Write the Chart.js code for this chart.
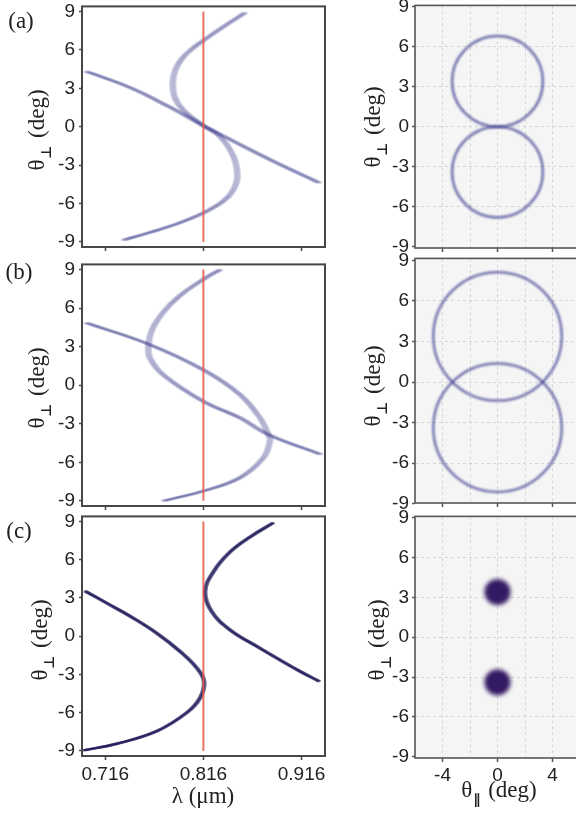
<!DOCTYPE html>
<html>
<head>
<meta charset="utf-8">
<script src="https://cdn.jsdelivr.net/npm/chart.js@4.4.1/dist/chart.umd.min.js"></script>
<style>
  html, body { margin: 0; padding: 0; background: #fff; }
  body { width: 576px; height: 813px; position: relative; overflow: hidden; }
  canvas { position: absolute; }
  .t { position: absolute; font-family: "Liberation Serif", "Times New Roman", serif; font-size: 23px; color: #222; white-space: nowrap; transform: translate(-50%, -50%); }
  .t.v { transform: translate(-50%, -50%) rotate(-90deg); }
  .t b { font-family: "DejaVu Sans", sans-serif; font-size: 14px; position: relative; top: 7px; margin-left: 1px; margin-right: 2px; }
</style>
</head>
<body>
<canvas id="la"></canvas>
<canvas id="lb"></canvas>
<canvas id="lc"></canvas>
<canvas id="ra"></canvas>
<canvas id="rb"></canvas>
<canvas id="rc"></canvas>

<div class="t" style="left:21px;top:21px">(a)</div>
<div class="t" style="left:19px;top:272px">(b)</div>
<div class="t" style="left:19px;top:531px">(c)</div>
<div class="t v" style="left:37px;top:130px">θ<b>⊥</b> (deg)</div>
<div class="t v" style="left:37px;top:388px">θ<b>⊥</b> (deg)</div>
<div class="t v" style="left:40px;top:640px">θ<b>⊥</b> (deg)</div>
<div class="t v" style="left:373px;top:127px">θ<b>⊥</b> (deg)</div>
<div class="t v" style="left:373px;top:386px">θ<b>⊥</b> (deg)</div>
<div class="t v" style="left:377px;top:640px">θ<b>⊥</b> (deg)</div>
<div class="t" style="left:203px;top:796px">λ (μm)</div>
<div class="t" style="left:499px;top:790px">θ<b>∥</b> (deg)</div>

<script>
// axes
const lambdaTicks = [0.716, 0.816, 0.916];
const thetaTicks = [-9, -6, -3, 0, 3, 6, 9];
const thetaParTicks = [-6, -4, -2, 0, 2, 4, 6];
const thetaParLabels = [-4, 0, 4];

// pump wavelength (red line)
const pumpLambda = [0.816, 0.816];
const pumpTheta = [-9, 9];

// (a) tuning curves
const aCurveLambda = [0.8585, 0.8466, 0.8330, 0.8167, 0.8042, 0.7940, 0.7872, 0.7848, 0.7872, 0.7956, 0.8160, 0.8330, 0.8466, 0.8506, 0.8466, 0.8364, 0.8166, 0.7923, 0.7617, 0.7345];
const aCurveTheta = [8.91, 8.32, 7.63, 6.77, 6.07, 5.30, 4.40, 3.36, 2.22, 1.29, 0.08, -0.78, -2.33, -3.88, -4.91, -5.81, -6.71, -7.49, -8.26, -8.86];
const aLineLambda = [0.6966, 0.7414, 0.7800, 0.8160, 0.8839, 0.9341];
const aLineTheta = [4.32, 3.05, 1.60, 0.08, -2.58, -4.39];

// (b) tuning curves
const bCurveLambda = [0.8333, 0.8166, 0.7923, 0.7753, 0.7635, 0.7600, 0.7617, 0.7753, 0.8160, 0.8534, 0.8822, 0.9355];
const bCurveTheta = [9.0, 8.27, 6.98, 5.70, 4.28, 3.00, 2.09, 0.80, -1.26, -2.55, -3.84, -5.38];
const bLineLambda = [0.6966, 0.7600, 0.8160, 0.8534, 0.8737, 0.8822, 0.8839, 0.8771, 0.8534, 0.8166, 0.7753];
const bLineTheta = [4.85, 3.20, 1.19, -0.74, -2.55, -3.84, -4.30, -5.65, -7.19, -8.22, -9.0];

// (c) tuning curves
const cLeftLambda = [0.6955, 0.7210, 0.7447, 0.7685, 0.7923, 0.8093, 0.8167, 0.8126, 0.7991, 0.7685, 0.7278, 0.6938];
const cLeftTheta = [3.54, 2.45, 1.41, 0.23, -1.20, -2.50, -3.54, -4.84, -6.00, -7.45, -8.44, -8.96];
const cRightLambda = [0.8873, 0.8636, 0.8432, 0.8262, 0.8177, 0.8245, 0.8432, 0.8737, 0.9145, 0.9341];
const cRightTheta = [8.90, 7.79, 6.61, 5.05, 3.49, 1.93, 0.49, -0.94, -2.76, -3.54];

// far-field rings (centred on theta_par = 0)
const ringX = [0, 0];
const aRingCentre = [3.4, -3.4];
const aRingRadius = [3.3, 3.3];
const bRingCentre = [3.38, -3.38];
const bRingRadius = [4.67, 4.67];
const cSpotCentre = [3.4, -3.4];
const cSpotRadius = [0.95, 0.95];

const tickFont = { family: '"Liberation Sans", Arial, sans-serif', size: 19 };
const PAD = 14, Y_W = 40;

function pts(xs, ys) {
    return xs.map((x, i) => ({ x: x, y: ys[i] }));
}

function place(id, area, xH) {
    const cv = document.getElementById(id);
    cv.width = Y_W + (area.right - area.left) + 2 * PAD;
    cv.height = (area.bottom - area.top) + xH + 2 * PAD;
    cv.style.left = (area.left - PAD - Y_W) + 'px';
    cv.style.top = (area.top - PAD) + 'px';
    return cv;
}

// plot frame + optional background
const framePlugin = {
    id: 'frame',
    beforeDraw(chart, args, opts) {
        if (!opts.bg) return;
        const a = chart.chartArea, ctx = chart.ctx;
        ctx.save();
        ctx.fillStyle = opts.bg;
        ctx.fillRect(a.left, a.top, a.right - a.left, a.bottom - a.top);
        ctx.restore();
    },
    afterDraw(chart, args, opts) {
        const a = chart.chartArea, ctx = chart.ctx;
        ctx.save();
        ctx.strokeStyle = opts.color;
        ctx.lineWidth = opts.width;
        ctx.strokeRect(a.left, a.top, a.right - a.left, a.bottom - a.top);
        ctx.restore();
    }
};

// spectral smear (horizontal) and blur for the soft traces
const softPlugin = {
    id: 'soft',
    beforeDatasetDraw(chart, args) {
        const ds = chart.data.datasets[args.index];
        if (!ds.smear && !ds.blur) return;
        const ctx = chart.ctx, a = chart.chartArea;
        ctx.save();
        ctx.beginPath();
        ctx.rect(a.left, a.top, a.right - a.left, a.bottom - a.top);
        ctx.clip();
        if (ds.blur) ctx.filter = 'blur(' + ds.blur + 'px)';
        (ds.smear || [0]).forEach(dx => {
            ctx.save();
            ctx.translate(dx, 0);
            args.meta.controller.draw();
            ctx.restore();
        });
        ctx.restore();
        return false;
    }
};

function redLine() {
    return { data: pts(pumpLambda, pumpTheta), showLine: true, pointRadius: 0, borderColor: 'rgba(232,88,72,0.85)', borderWidth: 2 };
}

function curve(xs, ys, color, width, smear) {
    return { data: pts(xs, ys), showLine: true, pointRadius: 0, borderColor: color, borderWidth: width, tension: 0.4, smear: smear };
}

function ring(ys, rs, color, width, fill, blur) {
    return {
        data: pts(ringX, ys),
        rad: rs,
        showLine: false,
        pointRadius: 0,
        pointBorderColor: color,
        pointBorderWidth: width,
        pointBackgroundColor: fill,
        blur: blur
    };
}

function leftChart(id, area, xH, showX, datasets) {
    const cv = place(id, area, xH);
    return new Chart(cv, {
        type: 'scatter',
        data: { datasets: datasets },
        options: {
            responsive: false,
            animation: false,
            events: [],
            layout: { padding: PAD },
            plugins: { legend: { display: false }, tooltip: { enabled: false }, frame: { color: '#474747', width: 2 } },
            scales: {
                x: {
                    type: 'linear', min: 0.6923, max: 0.9399,
                    afterBuildTicks: s => { s.ticks = lambdaTicks.map(v => ({ value: v })); },
                    afterFit: s => { s.height = xH; },
                    grid: { drawOnChartArea: false, tickLength: 4, tickWidth: 1.5, tickColor: '#474747' },
                    border: { display: false },
                    ticks: { display: showX, padding: 3, color: '#222', font: tickFont, maxRotation: 0, autoSkip: false, callback: v => v.toFixed(3) }
                },
                y: {
                    type: 'linear', min: -9.4, max: 9.4,
                    afterBuildTicks: s => { s.ticks = thetaTicks.map(v => ({ value: v })); },
                    afterFit: s => { s.width = Y_W; },
                    grid: { drawOnChartArea: false, tickLength: 3, tickWidth: 1.5, tickColor: '#474747' },
                    border: { display: false },
                    ticks: { padding: 4, color: '#222', font: tickFont }
                }
            }
        },
        plugins: [framePlugin, softPlugin]
    });
}

function rightChart(id, area, xH, showX, yMin, yMax, datasets) {
    const cv = place(id, area, xH);
    const chart = new Chart(cv, {
        type: 'scatter',
        data: { datasets: datasets },
        options: {
            responsive: false,
            animation: false,
            events: [],
            layout: { padding: PAD },
            plugins: { legend: { display: false }, tooltip: { enabled: false }, frame: { color: '#555', width: 1.6, bg: '#f5f5f5' } },
            scales: {
                x: {
                    type: 'linear', min: -6, max: 6,
                    afterBuildTicks: s => { s.ticks = thetaParTicks.map(v => ({ value: v })); },
                    afterFit: s => { s.height = xH; },
                    grid: {
                        color: c => (c.tick && Math.abs(c.tick.value) === 6) ? 'rgba(0,0,0,0)' : '#d6d6d6',
                        lineWidth: 1, tickLength: 4, tickWidth: 1.5,
                        tickColor: c => (c.tick && thetaParLabels.includes(c.tick.value)) ? '#555' : 'rgba(0,0,0,0)'
                    },
                    border: { display: false, dash: [3, 3] },
                    ticks: { display: showX, padding: 2, color: '#222', font: tickFont, maxRotation: 0, autoSkip: false,
                             callback: v => thetaParLabels.includes(v) ? String(v) : '' }
                },
                y: {
                    type: 'linear', min: yMin, max: yMax,
                    afterBuildTicks: s => { s.ticks = thetaTicks.map(v => ({ value: v })); },
                    afterFit: s => { s.width = Y_W; },
                    grid: {
                        color: c => (c.tick && Math.abs(c.tick.value) === 9) ? 'rgba(0,0,0,0)' : '#d6d6d6',
                        lineWidth: 1, tickLength: 3, tickWidth: 1.5, tickColor: '#555'
                    },
                    border: { display: false, dash: [3, 3] },
                    ticks: { padding: 3, color: '#222', font: tickFont }
                }
            }
        },
        plugins: [framePlugin, softPlugin]
    });
    // ring radii are in degrees: convert through the x scale
    const sx = chart.scales.x;
    chart.data.datasets.forEach(ds => {
        ds.pointRadius = ds.rad.map(r => Math.abs(sx.getPixelForValue(r) - sx.getPixelForValue(0)));
    });
    chart.update();
    return chart;
}

const softBlue = 'rgba(60,60,140,0.2)';
const wideSmear = [-2.5, -1.25, 0, 1.25, 2.5];
const darkBlue = 'rgba(25,20,85,0.6)';
const thinSmear = [-1.2, 0, 1.2];

leftChart('la', { left: 82, right: 325, top: 5, bottom: 247 }, 6, false, [
    redLine(),
    curve(aCurveLambda, aCurveTheta, softBlue, 2.5, wideSmear),
    curve(aLineLambda, aLineTheta, softBlue, 2.5, wideSmear)
]);
leftChart('lb', { left: 82, right: 325, top: 263, bottom: 506 }, 6, false, [
    redLine(),
    curve(bCurveLambda, bCurveTheta, softBlue, 2.5, wideSmear),
    curve(bLineLambda, bLineTheta, softBlue, 2.5, wideSmear)
]);
leftChart('lc', { left: 82, right: 325, top: 515, bottom: 756 }, 30, true, [
    redLine(),
    curve(cLeftLambda, cLeftTheta, darkBlue, 2.4, thinSmear),
    curve(cRightLambda, cRightTheta, darkBlue, 2.4, thinSmear)
]);

rightChart('ra', { left: 415, right: 580, top: 5, bottom: 248 }, 6, false, -9.1, 9.1, [
    ring(aRingCentre, aRingRadius, 'rgba(70,70,150,0.75)', 2.5, 'rgba(0,0,0,0)', 0.8)
]);
rightChart('rb', { left: 415, right: 580, top: 258, bottom: 503 }, 6, false, -8.95, 9.15, [
    ring(bRingCentre, bRingRadius, 'rgba(70,70,150,0.75)', 2.5, 'rgba(0,0,0,0)', 0.8)
]);
rightChart('rc', { left: 415, right: 580, top: 516, bottom: 758 }, 28, true, -9.1, 9.1, [
    ring(cSpotCentre, cSpotRadius, 'rgba(0,0,0,0)', 0, 'rgb(52,26,98)', 2.2)
]);
</script>
</body>
</html>
